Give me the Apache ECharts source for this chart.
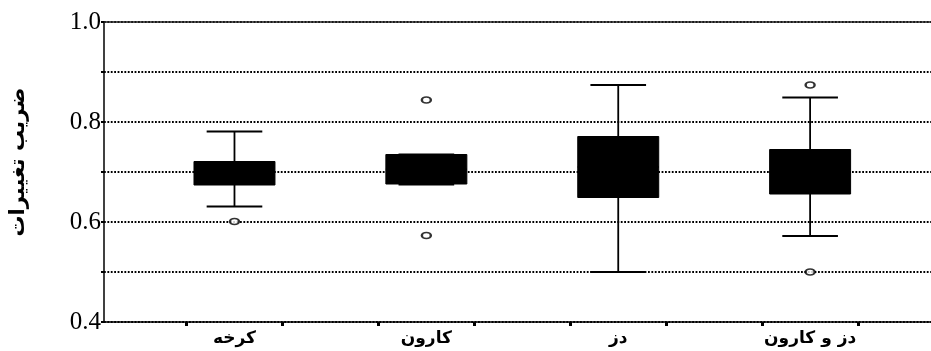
<!DOCTYPE html>
<html>
<head>
<meta charset="utf-8">
<script src="https://cdn.jsdelivr.net/npm/echarts@6/dist/echarts.min.js"></script>
<style>
html,body{margin:0;padding:0;background:#fff;}
#chart{width:931px;height:351px;}
</style>
</head>
<body>
<div id="chart"></div>
<script>
// categories (drawn left-to-right)
const categories = ['کرخه', 'کارون', 'دز', 'دز و کارون'];
// box stats: [lower whisker, Q1, median, Q3, upper whisker]
const boxStats = [
  [0.631, 0.674, 0.700, 0.721, 0.781],
  [0.675, 0.676, 0.705, 0.735, 0.735],
  [0.500, 0.649, 0.710, 0.771, 0.874],
  [0.572, 0.656, 0.700, 0.745, 0.849]
];
// outliers: [category index, value]
const outliers = [
  [0, 0.601],
  [1, 0.844],
  [1, 0.573],
  [3, 0.874],
  [3, 0.500]
];
const yTicks = [0.4, 0.5, 0.6, 0.7, 0.8, 0.9, 1.0];
const yAxisTitle = 'ضریب تغییرات';

const boxData = boxStats.map((s, i) => [i].concat(s));
const catPositions = categories.map((c, i) => i);
const tickPositions = [];
categories.forEach((c, i) => { tickPositions.push(i - 0.25, i + 0.25); });

const chart = echarts.init(document.getElementById('chart'), null, {renderer: 'canvas'});
chart.setOption({
  animation: false,
  backgroundColor: '#fff',
  grid: {left: 103, right: 0, top: 22, bottom: 29, containLabel: false},
  xAxis: [{
    type: 'value',
    min: -0.68,
    max: 3.63,
    position: 'bottom',
    axisLine: {show: true, onZero: false, lineStyle: {color: '#000', width: 1.5}},
    axisTick: {show: true, customValues: tickPositions, length: 4, inside: false, lineStyle: {color: '#000', width: 3}},
    axisLabel: {
      show: true,
      customValues: catPositions,
      margin: 8,
      formatter: v => categories[Math.round(v)] || '',
      fontFamily: 'DejaVu Sans',
      fontWeight: 'bold',
      fontSize: 17,
      color: '#000'
    },
    splitLine: {show: false}
  }, {
    type: 'value',
    min: -0.68,
    max: 3.63,
    position: 'top',
    axisLine: {show: true, onZero: false, lineStyle: {color: '#222', width: 1.5}},
    axisTick: {show: false},
    axisLabel: {show: false},
    splitLine: {show: false}
  }],
  yAxis: {
    type: 'value',
    min: yTicks[0],
    max: yTicks[yTicks.length - 1],
    interval: 0.1,
    name: yAxisTitle,
    nameLocation: 'middle',
    nameGap: 75,
    nameRotate: 90,
    nameTextStyle: {fontFamily: 'DejaVu Sans', fontWeight: 'bold', fontSize: 21, color: '#000', padding: [0, 0, 0, 20]},
    axisLine: {show: true, onZero: false, lineStyle: {color: '#000', width: 1.5}},
    axisTick: {show: true, length: 3, lineStyle: {color: '#000', width: 2}},
    axisLabel: {
      margin: 3,
      formatter: v => (Math.round(v * 10) % 2 === 0 ? v.toFixed(1) : ''),
      fontFamily: 'Liberation Serif',
      fontSize: 25,
      color: '#000'
    },
    splitLine: {show: true, lineStyle: {color: '#000', width: 2, type: [1.8, 1.6]}}
  },
  series: [{
    type: 'custom',
    xAxisIndex: 0,
    data: boxData,
    encode: {x: 0, y: [1, 2, 3, 4, 5]},
    z: 3,
    renderItem: function (params, api) {
      const x = api.value(0);
      const lo = api.coord([x, api.value(1)]);
      const q1 = api.coord([x, api.value(2)]);
      const med = api.coord([x, api.value(3)]);
      const q3 = api.coord([x, api.value(4)]);
      const hi = api.coord([x, api.value(5)]);
      const unit = api.size([1, 0])[0];
      const bw = unit * 0.422, cw = unit * 0.29;
      const cx = q1[0];
      const ls = {stroke: '#000', lineWidth: 1.8};
      return {
        type: 'group',
        children: [
          {type: 'line', shape: {x1: cx, y1: hi[1], x2: cx, y2: q3[1]}, style: ls},
          {type: 'line', shape: {x1: cx, y1: q1[1], x2: cx, y2: lo[1]}, style: ls},
          {type: 'line', shape: {x1: cx - cw / 2, y1: hi[1], x2: cx + cw / 2, y2: hi[1]}, style: ls},
          {type: 'line', shape: {x1: cx - cw / 2, y1: lo[1], x2: cx + cw / 2, y2: lo[1]}, style: ls},
          {type: 'rect', shape: {x: cx - bw / 2, y: q3[1], width: bw, height: q1[1] - q3[1]}, style: {fill: '#000', stroke: '#000', lineWidth: 1}},
          {type: 'line', shape: {x1: cx - bw / 2, y1: med[1], x2: cx + bw / 2, y2: med[1]}, style: {stroke: '#000', lineWidth: 2}}
        ]
      };
    }
  }, {
    type: 'scatter',
    xAxisIndex: 0,
    data: outliers,
    symbol: 'emptyCircle',
    symbolSize: [9, 6],
    z: 4,
    itemStyle: {color: '#000', borderColor: '#000', borderWidth: 1.5}
  }]
});
</script>
</body>
</html>
